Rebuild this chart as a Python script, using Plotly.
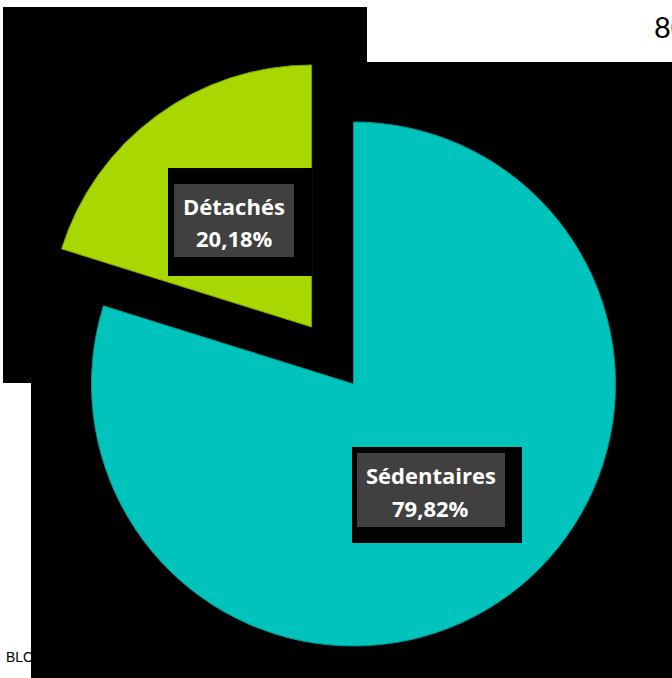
import math
import plotly.graph_objects as go

# ---- data ----
labels = ["Sédentaires", "Détachés"]
values = [79.82, 20.18]
value_text = ["79,82%", "20,18%"]
colors = ["#00C4BB", "#A9D800"]
edge_colors = ["#00968E", "#7E9F00"]
pull = [0.0, 0.27]

# ---- layout constants (pixels) ----
W, H = 672, 678
CX, CY, R = 353.5, 384.0, 262.0


def px_dom(cx, cy, r):
    return dict(x=[(cx - r) / W, (cx + r) / W], y=[1 - (cy + r) / H, 1 - (cy - r) / H])


fig = go.Figure()
total = sum(values)
start = 0.0
for i, (lab, v) in enumerate(zip(labels, values)):
    frac = v / total
    mid = start + frac / 2  # fraction of the turn, clockwise from 12 o'clock
    ang = 2 * math.pi * mid
    off = pull[i] * R
    dx = math.sin(ang) * off
    dy = -math.cos(ang) * off
    cols = ["rgba(0,0,0,0)"] * len(values)
    cols[i] = colors[i]
    lcols = ["rgba(0,0,0,0)"] * len(values)
    lcols[i] = edge_colors[i]
    fig.add_trace(go.Pie(
        labels=labels, values=values, sort=False, direction="clockwise", rotation=0,
        marker=dict(colors=cols, line=dict(width=1, color=lcols)),
        textinfo="none", hoverinfo="label+percent", showlegend=False,
        domain=px_dom(CX + dx, CY + dy, R),
    ))
    start += frac


def rect(x0, y0, x1, y1, color):
    return dict(type="rect", xref="paper", yref="paper", x0=x0 / W, x1=x1 / W,
                y0=1 - y1 / H, y1=1 - y0 / H, fillcolor=color, line=dict(width=0))


shapes = [
    dict(rect(3, 7, 367, 383, "black"), layer="below"),
    dict(rect(31, 62, 680, 690, "black"), layer="below"),
    # label boxes
    rect(168, 168, 312, 276, "black"),
    rect(174, 184, 294, 257, "#404040"),
    rect(352, 447, 522, 543, "black"),
    rect(357, 453, 505, 527, "#404040"),
]

label_pos = {"Détachés": (234, 206, 238), "Sédentaires": (430.5, 474.5, 507.5)}
annotations = []
for lab, vt in zip(labels, value_text):
    x, y1, y2 = label_pos[lab]
    for txt, yy in ((lab, y1), (vt, y2)):
        annotations.append(dict(
            text="<b>" + txt + "</b>", x=x / W, y=1 - yy / H, xref="paper", yref="paper",
            xanchor="center", yanchor="middle", showarrow=False,
            font=dict(family="Open Sans", size=22, color="white")))

annotations.append(dict(text="80", x=652 / W, y=1 - 27 / H, xref="paper", yref="paper",
                        xanchor="left", yanchor="middle", showarrow=False,
                        font=dict(family="Lato", size=29, color="black")))
annotations.append(dict(text="BLOG", x=4 / W, y=1 - 657 / H, xref="paper", yref="paper",
                        xanchor="left", yanchor="middle", showarrow=False,
                        font=dict(family="Liberation Sans", size=14, color="black")))

fig.update_layout(
    width=W, height=H, margin=dict(l=0, r=0, t=0, b=0),
    paper_bgcolor="white", plot_bgcolor="white",
    shapes=shapes, annotations=annotations,
)
fig.write_html("out.html", config={"displayModeBar": False},
               post_script="document.body.style.margin='0';")
